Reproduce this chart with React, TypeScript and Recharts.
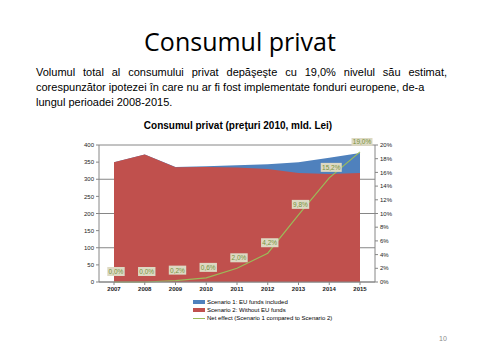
import {
  Area,
  CartesianGrid,
  ComposedChart,
  LabelList,
  Line,
  XAxis,
  YAxis,
} from "recharts";

// Consumul privat, mld. Lei (preturi 2010) + efect net in %
const YEARS = ["2007", "2008", "2009", "2010", "2011", "2012", "2013", "2014", "2015"];
const SCENARIO_1 = [350, 372, 336, 338, 341, 344, 350, 363, 377]; // cu fonduri UE
const SCENARIO_2 = [350, 372, 335, 336, 334, 330, 318, 315, 318]; // fara fonduri UE
const NET_EFFECT = [0, 0, 0.2, 0.6, 2.0, 4.2, 9.8, 15.2, 19.0];
const LEFT_TICKS = [0, 50, 100, 150, 200, 250, 300, 350, 400];
const RIGHT_TICKS = [0, 2, 4, 6, 8, 10, 12, 14, 16, 18, 20];

const BLUE = "#4f81bd";
const RED = "#c0504d";
const GREEN = "#9bbb59";
const AXIS = "#868686";
const FONT = "'Liberation Sans', Arial, sans-serif";

const data = YEARS.map((year, i) => ({
  year,
  s1: SCENARIO_1[i],
  s2: SCENARIO_2[i],
  net: NET_EFFECT[i],
}));

const pct = (v: number) => v.toFixed(1).replace(".", ",") + "%";

function NetLabel(props: any) {
  const { x, y, value } = props;
  const text = pct(value);
  const w = text.length * 3.6 + 3;
  return (
    <g>
      <rect x={x - w / 2 + 2} y={y - 15} width={w} height={9} fill="#ddd9c3" />
      <text
        x={x + 2}
        y={y - 8}
        textAnchor="middle"
        fontSize={6.5}
        fontFamily={FONT}
        fill="#76923c"
      >
        {text}
      </text>
    </g>
  );
}

function LegendRow({ kind, label }: { kind: "blue" | "red" | "line"; label: string }) {
  return (
    <div style={{ display: "flex", alignItems: "center", height: 8 }}>
      {kind === "line" ? (
        <div style={{ width: 12, height: 1, background: GREEN, marginRight: 2 }} />
      ) : (
        <div
          style={{
            width: 12,
            height: 4,
            background: kind === "blue" ? BLUE : RED,
            marginRight: 2,
          }}
        />
      )}
      <span>{label}</span>
    </div>
  );
}

export default function App() {
  const tick = { fontSize: 6, fontFamily: FONT, fill: "#222" };
  return (
    <div
      style={{
        position: "absolute",
        left: 0,
        top: 0,
        width: 480,
        height: 360,
        background: "#fff",
        fontFamily: "'Liberation Sans', Arial, sans-serif",
      }}
    >
      <div
        style={{
          position: "absolute",
          top: 24,
          width: 480,
          textAlign: "center",
          fontSize: 25,
          fontFamily: "'Open Sans', sans-serif",
          color: "#000",
        }}
      >
        Consumul privat
      </div>

      <div
        style={{
          position: "absolute",
          left: 36,
          top: 65,
          width: 411,
          fontSize: 11,
          lineHeight: "15px",
          color: "#000",
        }}
      >
        <div style={{ textAlign: "justify", textAlignLast: "justify" }}>
          Volumul total al consumului privat depăşeşte cu 19,0% nivelul său estimat,
        </div>
        <div>corespunzător ipotezei în care nu ar fi fost implementate fonduri europene, de-a</div>
        <div>lungul perioadei 2008-2015.</div>
      </div>

      <div
        style={{
          position: "absolute",
          left: 78,
          top: 120,
          width: 320,
          textAlign: "center",
          fontSize: 10,
          fontWeight: "bold",
          color: "#000",
        }}
      >
        Consumul privat (preţuri 2010, mld. Lei)
      </div>

      <div style={{ position: "absolute", left: 78, top: 138 }}>
        <ComposedChart
          width={320}
          height={159}
          data={data}
          margin={{ top: 7, right: 0, bottom: 0, left: 0 }}
        >
          <CartesianGrid vertical={false} stroke={AXIS} yAxisId="left" />
          <XAxis
            dataKey="year"
            padding={{ left: 15, right: 15 }}
            height={15}
            tick={{ ...tick, fontWeight: "bold" }}
            tickSize={3}
            stroke={AXIS}
            interval={0}
          />
          <YAxis
            yAxisId="left"
            domain={[0, 400]}
            ticks={LEFT_TICKS}
            width={21}
            tick={tick}
            tickSize={3}
            stroke={AXIS}
          />
          <YAxis
            yAxisId="right"
            orientation="right"
            domain={[0, 20]}
            ticks={RIGHT_TICKS}
            tickFormatter={(v: number) => `${v}%`}
            width={23}
            tick={tick}
            tickSize={3}
            stroke={AXIS}
          />
          <Area
            yAxisId="left"
            type="linear"
            dataKey="s1"
            fill={BLUE}
            fillOpacity={1}
            stroke="none"
            isAnimationActive={false}
          />
          <Area
            yAxisId="left"
            type="linear"
            dataKey="s2"
            fill={RED}
            fillOpacity={1}
            stroke="none"
            isAnimationActive={false}
          />
          <Line
            yAxisId="right"
            type="linear"
            dataKey="net"
            stroke={GREEN}
            strokeWidth={1.2}
            dot={false}
            isAnimationActive={false}
          >
            <LabelList dataKey="net" content={NetLabel} />
          </Line>
        </ComposedChart>
      </div>

      <div
        style={{
          position: "absolute",
          left: 193,
          top: 298,
          fontSize: 6,
          color: "#000",
        }}
      >
        <LegendRow kind="blue" label="Scenario 1: EU funds included" />
        <LegendRow kind="red" label="Scenario 2: Without EU funds" />
        <LegendRow kind="line" label="Net effect (Scenario 1 compared to Scenario 2)" />
      </div>

      <div
        style={{
          position: "absolute",
          left: 439,
          top: 335,
          fontSize: 7,
          color: "#8a8a8a",
        }}
      >
        10
      </div>
    </div>
  );
}
